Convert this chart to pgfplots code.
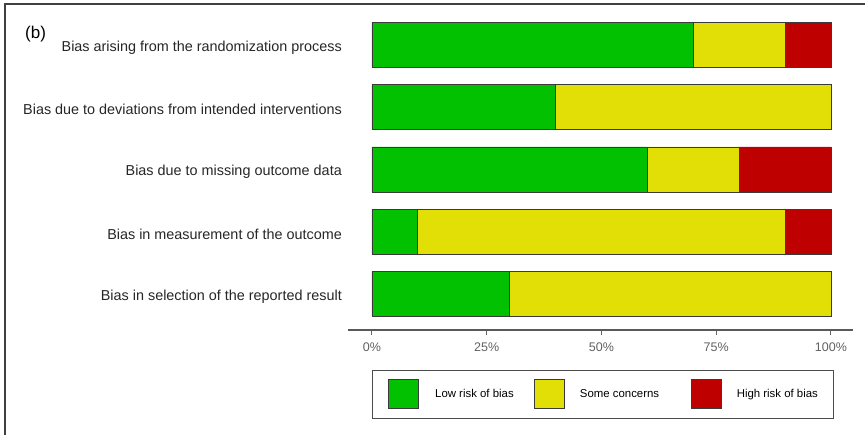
\documentclass[border=0pt]{standalone}
\usepackage{fontspec}
\setmainfont{Liberation Sans}
\usepackage{pgfplots}
\pgfplotsset{compat=1.18}
\definecolor{low}{HTML}{02C100}
\definecolor{some}{HTML}{E2DF07}
\definecolor{high}{HTML}{BF0000}
\definecolor{edge}{HTML}{3A3A3A}
\begin{document}
\begin{tikzpicture}[x=1pt,y=1pt]
\path[use as bounding box] (0,0) rectangle (865,434);
\draw[line width=1.6pt, color=black!75] (5,-2) -- (5,430) -- (867,430);
\node[anchor=west, font=\fontsize{17}{20}\selectfont, inner sep=0pt] at (25,400) {(b)};
\begin{axis}[
 at={(348pt,104pt)}, anchor=south west, scale only axis,
 width=505pt, height=322.5pt,
 xbar stacked, bar width=45pt,
 xmin=-5.2, xmax=104.8, ymin=-0.6, ymax=4.58, y dir=reverse,
 axis x line*=bottom, axis y line*=left,
 y axis line style={draw=none},
 x axis line style={draw=black!65, line width=1.4pt, -},
 xtick={0,25,50,75,100}, xticklabels={0\%,25\%,50\%,75\%,100\%},
 xtick style={draw=black!60, line width=1pt},
 major tick length=5pt, tick align=outside,
 xticklabel style={text=black!62, font=\fontsize{12.5}{14}\selectfont, yshift=-4pt},
 ytick={0,1,2,3,4}, ytick style={draw=none},
 yticklabels={Bias arising from the randomization process, Bias due to deviations from intended interventions, Bias due to missing outcome data, Bias in measurement of the outcome, Bias in selection of the reported result},
 yticklabel style={font=\fontsize{14.4}{16}\selectfont, text=black!85, inner sep=0pt, xshift=-1pt, yshift=-2.5pt},
 legend columns=3,
 legend image code/.code={\draw[#1, draw=edge, line width=0.8pt] (0pt,-14.5pt) rectangle (30pt,14.5pt);},
 legend style={at={(axis cs:0,5.221)}, anchor=north west, draw=black!70, line width=1pt, fill=white,
   inner xsep=16pt, inner ysep=9pt, font=\fontsize{11.4}{13}\selectfont,
   nodes={inner sep=0pt}, /tikz/every even column/.style={column sep=0pt}, /tikz/every odd column/.style={column sep=0pt}},
 clip=false,
]
\addplot+[fill=low, draw=edge, line width=0.7pt] coordinates {(70,0) (40,1) (60,2) (10,3) (30,4)};
\addlegendentry{\makebox[115pt][l]{\hspace{16pt}Low risk of bias}}
\addplot+[fill=some, draw=edge, line width=0.7pt] coordinates {(20,0) (60,1) (20,2) (80,3) (70,4)};
\addlegendentry{\makebox[126pt][l]{\hspace{15pt}Some concerns}}
\addplot+[fill=high, draw=edge, line width=0.7pt] coordinates {(10,0) (0,1) (20,2) (10,3) (0,4)};
\addlegendentry{\makebox[96pt][l]{\hspace{15pt}High risk of bias}}
\end{axis}
\end{tikzpicture}
\end{document}
